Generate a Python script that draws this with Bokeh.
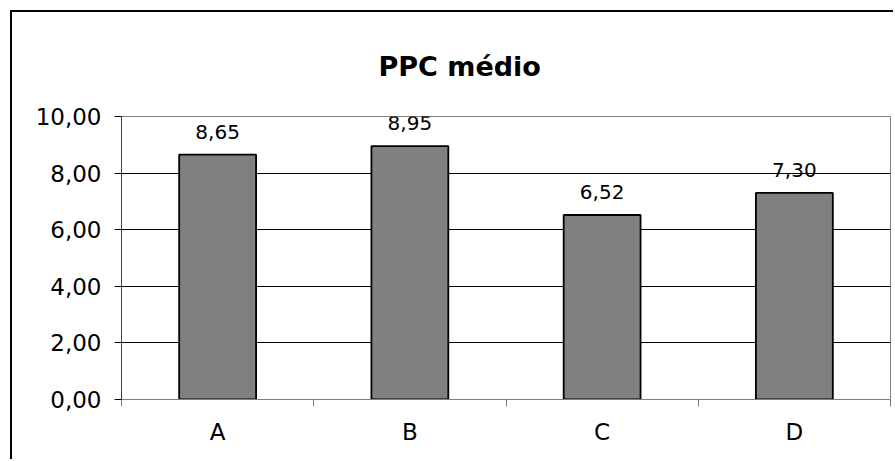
import numpy as np
from bokeh.plotting import figure
from bokeh.models import (Range1d, FixedTicker, CustomJSTickFormatter, Title,
                          ColumnDataSource)
from bokeh.core.properties import value
from bokeh.embed import file_html
from bokeh.resources import INLINE

# ---- data ----
categories = ["A", "B", "C", "D"]
ppc_medio = [8.65, 8.95, 6.52, 7.30]
y_ticks = [0, 2, 4, 6, 8, 10]
title_text = "PPC médio"

n = len(categories)
centers = np.arange(n) + 0.5          # category slot centres
labels = [f"{v:.2f}".replace(".", ",") for v in ppc_medio]
src = ColumnDataSource(dict(x=centers, val=ppc_medio, lab=labels))

FONT = "DejaVu Sans"
W, H = 883, 449

p = figure(width=W, height=H, output_backend="svg", toolbar_location=None,
           x_range=Range1d(0, n), y_range=Range1d(0, 10),
           min_border_left=109, min_border_right=5, min_border_top=104,
           min_border_bottom=62)
p.styles = {"margin-left": "10px", "margin-top": "10px",
            "border-left": "2px solid black", "border-top": "2px solid black"}
p.background_fill_color = "white"
p.border_fill_color = "white"
p.outline_line_color = "#808080"
p.outline_line_width = 1

# title
p.add_layout(Title(text=title_text, align="left", offset=257, standoff=70,
                   text_font=FONT, text_font_size="27px", text_font_style="bold",
                   text_color="black"), "above")

# y axis
p.yaxis.ticker = FixedTicker(ticks=y_ticks)
p.yaxis.formatter = CustomJSTickFormatter(code="return tick.toFixed(2).replace('.', ',');")
p.yaxis.major_label_text_font = FONT
p.yaxis.major_label_text_font_size = "23px"
p.yaxis.major_label_text_color = "black"
p.yaxis.major_tick_out = 7
p.yaxis.major_tick_in = 0
p.yaxis.major_tick_line_color = "black"
p.yaxis.minor_tick_line_color = None
p.yaxis.axis_line_color = "#404040"
p.yaxis.major_label_standoff = 13

# grid
p.xgrid.grid_line_color = None
p.ygrid.ticker = FixedTicker(ticks=y_ticks[1:-1])
p.ygrid.grid_line_color = "black"
p.ygrid.grid_line_width = 1

# x axis: labels at slot centres, ticks at slot boundaries
xaxis = p.xaxis[0]
xaxis.ticker = FixedTicker(ticks=list(centers), minor_ticks=list(range(n + 1)))
xaxis.formatter = CustomJSTickFormatter(args=dict(cats=categories),
                                        code="return cats[Math.floor(tick)];")
xaxis.axis_line_color = "#808080"
xaxis.major_tick_line_color = None
xaxis.minor_tick_line_color = "#808080"
xaxis.minor_tick_out = 7
xaxis.minor_tick_in = 0
xaxis.major_tick_out = 7
xaxis.major_tick_in = 0
xaxis.major_label_standoff = 12
xaxis.major_label_text_font = FONT
xaxis.major_label_text_font_size = "23px"
xaxis.major_label_text_color = "black"

# bars
p.vbar(x="x", top="val", width=0.4, source=src,
       fill_color="#808080", line_color="black", line_width=1.8)

# data labels
p.text(x="x", y="val", text="lab", source=src, y_offset=-23,
       text_align="center", text_baseline="alphabetic",
       text_font=value(FONT), text_font_size="20px", text_color="black")

open("out.html", "w").write(file_html(p, INLINE))
